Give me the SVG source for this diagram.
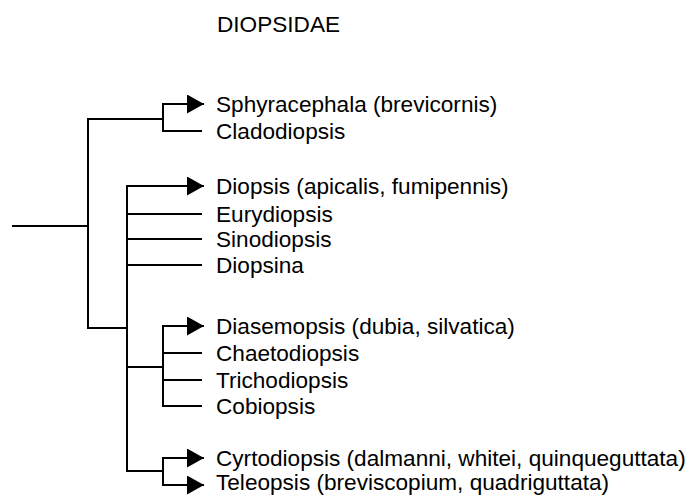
<svg xmlns="http://www.w3.org/2000/svg" width="689" height="495" viewBox="0 0 689 495">
<style>
.c{fill:none;stroke:#000;stroke-width:2}
.a{marker-end:url(#ah)}
text{font-family:"Liberation Sans",Arial,sans-serif;font-size:22.6px;fill:#000}
</style>
<defs>
<marker id="ah" viewBox="0 0 17 19" markerWidth="17" markerHeight="19" refX="17" refY="9.5" orient="auto" markerUnits="userSpaceOnUse">
<path d="M0,0 L17,9.5 L0,19 Z" fill="#000"/>
</marker>
</defs>
<rect width="689" height="495" fill="#fff"/>
<g id="title"><text x="217" y="32">DIOPSIDAE</text></g>
<g id="connectors">
<path class="c" d="M12,226 H88 M88,118 V329 M87,119 H163 M163,103 V132 M162,131 H202"/>
<path class="c a" d="M162,104 H204"/>
<path class="c" d="M88,328 H127 M127,185 V472 M126,214 H202 M126,239 H202 M126,265 H202"/>
<path class="c a" d="M126,186 H204"/>
<path class="c" d="M127,367 H163 M163,325 V407 M162,353 H202 M162,380 H202 M162,406 H202"/>
<path class="c a" d="M162,326 H204"/>
<path class="c" d="M127,471 H163 M163,457 V486"/>
<path class="c a" d="M162,458 H204"/>
<path class="c a" d="M162,485 H204"/>
</g>
<g id="sphyracephala"><text x="216" y="112">Sphyracephala (brevicornis)</text></g>
<g id="cladodiopsis"><text x="216" y="139">Cladodiopsis</text></g>
<g id="diopsis"><text x="216" y="194">Diopsis (apicalis, fumipennis)</text></g>
<g id="eurydiopsis"><text x="216" y="222">Eurydiopsis</text></g>
<g id="sinodiopsis"><text x="216" y="247">Sinodiopsis</text></g>
<g id="diopsina"><text x="216" y="273">Diopsina</text></g>
<g id="diasemopsis"><text x="216" y="334">Diasemopsis (dubia, silvatica)</text></g>
<g id="chaetodiopsis"><text x="216" y="361">Chaetodiopsis</text></g>
<g id="trichodiopsis"><text x="216" y="388">Trichodiopsis</text></g>
<g id="cobiopsis"><text x="216" y="414">Cobiopsis</text></g>
<g id="cyrtodiopsis"><text x="216" y="466">Cyrtodiopsis (dalmanni, whitei, quinqueguttata)</text></g>
<g id="teleopsis"><text x="216" y="490">Teleopsis (breviscopium, quadriguttata)</text></g>
</svg>
